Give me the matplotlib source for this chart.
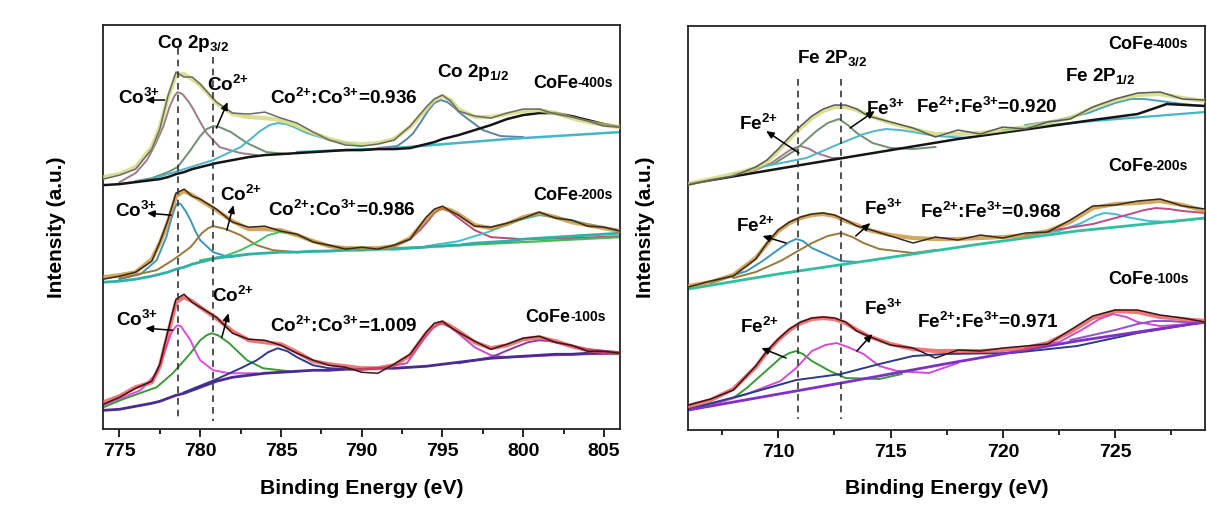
import matplotlib
matplotlib.use('Agg')
import matplotlib.pyplot as plt
from matplotlib.ticker import AutoMinorLocator

plt.rcParams['font.family'] = ['Liberation Sans', 'DejaVu Sans']
plt.rcParams['font.weight'] = 'bold'
plt.rcParams['mathtext.fontset'] = 'custom'
plt.rcParams['mathtext.rm'] = 'Liberation Sans:bold'
plt.rcParams['mathtext.it'] = 'Liberation Sans:bold'
plt.rcParams['mathtext.bf'] = 'Liberation Sans:bold'
plt.rcParams['mathtext.default'] = 'rm'

# ---------------- Co 2p (left panel) ----------------
co_e = [774, 775, 776, 777, 777.5, 778, 778.5, 779, 779.5, 780, 781, 782, 783, 784, 785,
        786, 787, 788, 789, 790, 791, 792, 793, 794, 794.5, 795, 795.5, 796, 797, 798,
        799, 800, 801, 802, 803, 804, 805, 806]

co400_fit = [252, 255, 262, 282, 302, 331, 354, 355, 350, 344, 326, 315, 312, 311, 309,
             303, 296, 290, 286, 285, 286, 290, 302, 320, 329, 333, 329, 320, 312, 312,
             315, 318, 319, 316, 311, 307, 304, 302]
co400_raw = [250, 254, 260, 280, 300, 333, 357, 352, 352, 345, 327, 316, 315, 317, 311,
             306, 297, 289, 284, 283, 285, 289, 303, 322, 330, 334, 328, 318, 313, 311,
             316, 320, 320, 315, 312, 308, 303, 302]
co400_bg = [244, 245, 247, 249, 250, 252, 255, 257, 260, 262, 266, 269, 272, 274, 275,
            276, 277, 278, 279, 279, 280, 280, 281, 285, 287, 290, 292, 294, 299, 304,
            310, 314, 316, 316, 313, 309, 305, 302]
co400_co3_e = [775, 776, 776.7, 777.2, 777.7, 778.1, 778.4, 778.6, 778.9, 779.3, 779.6, 780,
               780.4, 781.2, 782.5, 783.5]
co400_co3 = [247, 256, 269, 284, 302, 322, 333, 337, 335, 327, 319, 307, 296, 282, 276, 274]
co400_co2_e = [776, 777, 778, 778.6, 779.4, 780, 780.4, 780.8, 781.2, 781.9, 782.9, 784.1, 785.5]
co400_co2 = [248, 251, 257, 262, 279, 293, 300, 303, 302, 297, 286, 277, 275]
co400_sat_e = [775, 777, 779, 780.8, 782.5, 783.2, 783.7, 784.3, 784.8, 785.3, 785.8, 786.6,
               788, 789.1, 790]
co400_sat = [245, 250, 260, 269, 282, 291, 298, 304, 306, 305, 302, 296, 289, 286, 283]
co400_p12_e = [791, 792.2, 792.8, 793.2, 793.7, 794.1, 794.5, 794.9, 795.3, 795.7, 796.1,
               796.5, 797.5, 798.6, 800]
co400_p12 = [281, 283, 290, 296, 308, 318, 326, 329, 327, 322, 316, 311, 299, 293, 292]
co400_base_e = [786, 792, 799, 806]
co400_base = [277, 281, 290, 297]

co200_fit = [152, 154, 157, 170, 186, 207, 233, 238, 234, 229, 219, 208, 200, 200, 199,
             194, 188, 183, 181, 181, 181, 183, 191, 210, 218, 221, 219, 215, 204, 201,
             205, 212, 216, 212, 207, 204, 201, 198]
co200_raw = [150, 153, 157, 168, 187, 209, 236, 240, 233, 230, 220, 207, 202, 203, 198,
             195, 187, 184, 180, 182, 180, 184, 190, 212, 220, 223, 218, 214, 203, 202,
             206, 211, 217, 211, 209, 203, 202, 198]
co200_bg = [147, 148, 150, 153, 155, 157, 160, 162, 165, 167, 171, 173, 175, 176, 177,
            177, 178, 178, 179, 179, 180, 180, 181, 182, 183, 183, 184, 184, 186, 187,
            188, 190, 191, 192, 193, 194, 195, 196]
co200_co3_e = [775, 776.3, 777.3, 777.9, 778.2, 778.45, 778.6, 778.8, 779.1, 779.4, 779.7,
               780, 780.8, 781.8, 783]
co200_co3 = [150, 155, 169, 192, 210, 222, 226, 225, 218, 209, 198, 189, 177, 172, 175]
co200_co2_e = [775, 777.3, 778.3, 779.4, 780.1, 780.5, 780.8, 781.1, 781.6, 782.5, 783.5,
               784.5, 786]
co200_co2 = [151, 159, 169, 182, 196, 201, 203, 202, 200, 194, 184, 179, 177]
co200_sat_e = [780, 781.5, 782.5, 783.5, 784.2, 784.9, 785.5, 786, 787, 788, 789, 790]
co200_sat = [169, 173, 179, 187, 194, 197, 196, 194, 188, 183, 181, 180]
co200_p12_e = [791, 792, 793, 793.6, 794, 794.5, 794.9, 795.4, 796, 797, 798, 800, 803, 806]
co200_p12 = [181, 183, 190, 199, 206, 216, 221, 218, 211, 199, 192, 190, 191, 193]
co200_s801_e = [794, 796, 798, 799, 800, 801, 802, 803, 804, 806]
co200_s801 = [183, 188, 198, 205, 210, 214, 212, 209, 205, 199]
co200_base_e = [786, 795, 806]
co200_base = [177, 183, 192]

co100_fit = [27, 33, 42, 47, 63, 95, 127, 132, 128, 122, 111, 98, 89, 87, 85,
             77, 68, 65, 63, 61, 61, 64, 74, 96, 104, 107, 103, 98, 87, 81,
             84, 90, 92, 88, 83, 79, 77, 76]
co100_raw = [25, 32, 41, 48, 65, 98, 130, 135, 127, 122, 112, 96, 90, 89, 84,
             76, 69, 64, 62, 57, 56, 65, 75, 97, 106, 108, 102, 97, 88, 80,
             85, 91, 93, 87, 84, 78, 78, 76]
co100_bg = [19, 20, 23, 26, 28, 31, 34, 36, 39, 42, 48, 52, 54, 56, 57,
            58, 59, 59, 60, 60, 61, 61, 62, 63, 64, 65, 66, 67, 69, 71,
            72, 73, 74, 75, 75, 76, 76, 76]
co100_co3_e = [774, 776.3, 777.3, 777.9, 778.2, 778.45, 778.6, 778.8, 779.1, 779.4, 779.7,
               780, 780.8, 781.8, 783.5]
co100_co3 = [24, 39, 56, 82, 96, 102, 104, 103, 96, 89, 78, 69, 59, 56, 56]
co100_co2_e = [774, 775.2, 777.3, 778.3, 779.4, 780, 780.4, 780.7, 781.1, 781.8, 782.9,
               783.9, 785.5]
co100_co2 = [22, 30, 42, 56, 76, 89, 94, 96, 94, 86, 69, 61, 58]
co100_sat_e = [779, 781, 782.5, 783.5, 784.2, 784.8, 785.4, 786, 787, 788, 790]
co100_sat = [37, 50, 61, 69, 77, 81, 78, 72, 64, 61, 60]
co100_p12_e = [791, 792.8, 793.8, 794.4, 794.9, 795.4, 795.9, 797, 798, 799, 802, 806]
co100_p12 = [61, 66, 89, 101, 106, 103, 97, 82, 74, 72, 74, 76]
co100_s801_e = [796, 798, 799.5, 800.3, 801, 801.7, 802.5, 804, 806]
co100_s801 = [66, 72, 82, 87, 89, 88, 85, 80, 77]

# ---------------- Fe 2p (right panel) ----------------
fe_e = [706, 707, 708, 709, 709.5, 710, 710.5, 711, 711.5, 712, 712.5, 713, 713.5, 714,
        715, 716, 717, 718, 719, 720, 721, 722, 723, 724, 725, 726, 727, 728, 729]

fe400_fit = [246, 251, 256, 262, 268, 279, 291, 302, 312, 319, 323, 323, 320, 315,
             307, 301, 296, 296, 297, 300, 303, 307, 312, 322, 330, 335, 336, 332, 329]
fe400_raw = [245, 250, 254, 263, 270, 281, 293, 304, 314, 321, 325, 325, 321, 314,
             308, 302, 293, 300, 296, 303, 301, 308, 311, 323, 331, 337, 338, 331, 330]
fe400_bg_e = [706, 711, 718, 724, 726, 727.3, 729]
fe400_bg = [246, 265, 291, 310, 316, 326, 324]
fe400_fe2_e = [708, 709, 709.7, 710.2, 710.6, 711, 711.4, 711.7, 712.4, 713]
fe400_fe2 = [256, 260, 267, 275, 281, 284, 281, 277, 272, 272]
fe400_fe3_e = [709, 709.8, 710.7, 711.2, 711.7, 712.2, 712.7, 713.1, 713.5, 714.2, 715, 716, 717]
fe400_fe3 = [262, 266, 279, 289, 299, 307, 311, 305, 297, 287, 282, 281, 283]
fe400_sat_e = [709, 711.25, 712.7, 713.8, 714.3, 714.8, 715.4, 716, 717, 718.5]
fe400_sat = [262, 272, 286, 296, 299, 301, 300, 298, 294, 292]
fe400_p12_e = [721, 722.5, 723.8, 724.5, 725, 725.7, 726.3, 727, 728, 729]
fe400_p12 = [305, 310, 317, 323, 327, 331, 331, 329, 326, 324]
fe400_base_e = [720, 724, 729]
fe400_base = [300, 309, 318]

fe200_fit = [144, 148, 155, 172, 186, 199, 207, 212, 215, 216, 214, 209, 205, 200,
             195, 192, 191, 191, 192, 193, 195, 199, 208, 222, 226, 227, 229, 225, 219]
fe200_raw = [143, 149, 154, 171, 187, 200, 208, 213, 216, 217, 215, 210, 204, 201,
             194, 187, 193, 190, 195, 192, 197, 198, 210, 224, 225, 229, 231, 224, 221]
fe200_bg_e = [706, 710, 714.5, 719, 723.3, 729]
fe200_bg = [141, 156, 171, 186, 199, 212]
fe200_fe2_e = [707, 708.6, 709.3, 710.1, 710.5, 710.8, 711.1, 711.5, 712.3, 712.8, 713.5]
fe200_fe2 = [147, 159, 169, 182, 188, 191, 189, 182, 174, 169, 168]
fe200_fe3_e = [708, 709, 710.1, 711.5, 712.2, 712.8, 713.3, 713.8, 714.5, 716, 717]
fe200_fe3 = [152, 158, 169, 187, 194, 197, 193, 187, 181, 177, 180]
fe200_p12_e = [721, 722.5, 723.5, 724.1, 724.5, 725, 725.5, 726.5, 727.5, 729]
fe200_p12 = [195, 199, 207, 214, 217, 216, 213, 209, 208, 212]
fe200_sat_e = [722, 724, 725.5, 726.3, 726.8, 727.4, 728, 729]
fe200_sat = [199, 206, 215, 220, 222, 221, 219, 217]

fe100_fit = [24, 30, 41, 63, 78, 90, 100, 107, 111, 112, 111, 107, 100, 94,
             86, 81, 79, 79, 79, 80, 82, 87, 98, 112, 119, 118, 113, 111, 109]
fe100_raw = [25, 31, 40, 64, 79, 91, 101, 108, 112, 113, 112, 108, 99, 94,
             85, 82, 72, 80, 79, 82, 84, 86, 100, 114, 120, 120, 115, 112, 108]
fe100_bg_e = [706, 712.8, 717.4, 723.3, 729]
fe100_bg = [20, 47, 66, 89, 108]
fe100_navy_e = [706, 708.6, 710.8, 712.8, 714.5, 716, 717.4, 720.4, 723.3, 726, 729]
fe100_navy = [21, 36, 50, 56, 66, 74, 76, 77, 84, 97, 108]
fe100_fe2_e = [706.5, 708, 708.6, 709.3, 710.1, 710.5, 710.8, 711.1, 711.5, 712.3, 713,
               714.5, 715.5]
fe100_fe2 = [23, 32, 42, 56, 72, 77, 79, 76, 69, 59, 52, 51, 56]
fe100_fe3_e = [707, 708.6, 710.1, 710.8, 711.5, 712.1, 712.6, 713.1, 713.8, 714.5, 715.3,
               716.7, 718]
fe100_fe3 = [25, 36, 49, 62, 79, 85, 87, 83, 76, 64, 59, 57, 67]
fe100_p12_e = [721, 722.5, 723.5, 724.3, 724.9, 725.5, 726, 727, 729]
fe100_p12 = [82, 88, 100, 111, 116, 113, 108, 104, 107]
fe100_sat_e = [723, 725, 726, 726.7, 727.4, 728, 729]
fe100_sat = [90, 100, 106, 109, 109, 108, 107]

co_ticks = [775, 780, 785, 790, 795, 800, 805]
fe_ticks = [710, 715, 720, 725]

FS = 13.6


def comp(ax, x, y, color, lw=1.4):
    ax.plot(x, y, color=color, lw=lw, zorder=2, solid_joinstyle='round')


def spectrum(ax, e, raw, fit, fit_color, raw_color):
    ax.plot(e, fit, color=fit_color, lw=3.0, alpha=0.75, zorder=3,
            solid_capstyle='round', solid_joinstyle='round')
    ax.plot(e, raw, color=raw_color, lw=1.1, zorder=4)


def arrow(ax, tail, head):
    ax.annotate('', xy=head, xytext=tail,
                arrowprops=dict(arrowstyle='-|>,head_length=0.45,head_width=0.2',
                                color='k', lw=1.1, shrinkA=0, shrinkB=0), zorder=6)


def label(ax, x, y, s):
    ax.text(x, y, s, fontsize=FS, ha='left', va='center', zorder=6)


def sample_label(ax, x, y, tag):
    t = ax.text(x, y, 'CoFe', fontsize=13, ha='left', va='center', zorder=6)
    ax.annotate(tag, xy=(1, 0.08), xycoords=t, fontsize=10, ha='left', va='bottom', zorder=6)


def style_axes(ax, xlim, ticks):
    ax.set_xlim(*xlim)
    ax.set_ylim(0, 404)
    ax.set_xticks(ticks)
    ax.xaxis.set_minor_locator(AutoMinorLocator(2))
    ax.set_yticks([])
    ax.tick_params(axis='x', which='major', direction='out', length=6, width=1.2,
                   labelsize=14, pad=4, top=False)
    ax.tick_params(axis='x', which='minor', direction='out', length=3.5, width=1.2, top=False)
    for lab in ax.get_xticklabels():
        lab.set_fontweight('bold')
    for s in ax.spines.values():
        s.set_linewidth(1.3)
        s.set_color('#222222')


CO3 = r'Co$^{\text{3+}}$'
CO2 = r'Co$^{\text{2+}}$'
FE3 = r'Fe$^{\text{3+}}$'
FE2 = r'Fe$^{\text{2+}}$'

fig = plt.figure(figsize=(12.07, 5.08), dpi=100)
ax1 = fig.add_axes([0.0856, 0.1549, 0.4281, 0.7959])
ax2 = fig.add_axes([0.5703, 0.1535, 0.4281, 0.7953])

# ---- left panel ----
comp(ax1, co400_co3_e, co400_co3, '#9d7c84')
comp(ax1, co400_co2_e, co400_co2, '#6f8f72')
comp(ax1, co400_sat_e, co400_sat, '#4fb5cc')
comp(ax1, co400_p12_e, co400_p12, '#5b84a8')
comp(ax1, co400_base_e, co400_base, '#45b5c8', lw=1.8)
comp(ax1, co_e, co400_bg, '#151515', lw=1.8)
spectrum(ax1, co_e, co400_raw, co400_fit, '#cdd66c', '#6a6a6a')

comp(ax1, co200_co3_e, co200_co3, '#3d96b8')
comp(ax1, co200_co2_e, co200_co2, '#9a7a3c')
comp(ax1, co200_sat_e, co200_sat, '#44c065')
comp(ax1, co200_p12_e, co200_p12, '#c04a70')
comp(ax1, co200_s801_e, co200_s801, '#3fc0c8')
comp(ax1, co200_base_e, co200_base, '#4ab85a', lw=1.6)
comp(ax1, co_e, co200_bg, '#30b0a8', lw=2.0)
spectrum(ax1, co_e, co200_raw, co200_fit, '#c48a2c', '#3a2a1c')

comp(ax1, co100_co3_e, co100_co3, '#e04ce0')
comp(ax1, co100_co2_e, co100_co2, '#3a9a3a')
comp(ax1, co100_sat_e, co100_sat, '#2e3a92')
comp(ax1, co100_p12_e, co100_p12, '#c84cc8')
comp(ax1, co100_s801_e, co100_s801, '#8a3ca8')
comp(ax1, co_e, co100_bg, '#4a2a94', lw=2.0)
spectrum(ax1, co_e, co100_raw, co100_fit, '#ea4a4a', '#3a1616')

for x0, y0 in [(778.6, 381), (780.8, 372)]:
    ax1.plot([x0, x0], [y0, 8], ls=(0, (4, 3)), color='#333333', lw=1.2, zorder=5)

label(ax1, 777.3, 386, r'Co 2p$_{\text{3/2}}$')
label(ax1, 794.67, 357, r'Co 2p$_{\text{1/2}}$')
# 400s
label(ax1, 774.9, 331, CO3)
arrow(ax1, (777.8, 329), (776.6, 329))
label(ax1, 780.45, 344, CO2)
arrow(ax1, (781.0, 301), (781.7, 327))
label(ax1, 784.3, 331, CO2 + ':' + CO3 + '=0.936')
sample_label(ax1, 800.6, 346, '-400s')
# 200s
label(ax1, 774.75, 218, CO3)
arrow(ax1, (778.2, 214), (776.7, 216))
label(ax1, 781.2, 234, CO2)
arrow(ax1, (781.65, 199), (782.06, 224))
label(ax1, 784.2, 219, CO2 + ':' + CO3 + '=0.986')
sample_label(ax1, 800.6, 234, '-200s')
# 100s
label(ax1, 774.8, 109, CO3)
arrow(ax1, (778.3, 99), (776.6, 101))
label(ax1, 780.7, 133, CO2)
arrow(ax1, (781.34, 92), (781.75, 116))
label(ax1, 784.3, 103, CO2 + ':' + CO3 + '=1.009')
sample_label(ax1, 800.15, 112, '-100s')

style_axes(ax1, (774, 806), co_ticks)

# ---- right panel ----
comp(ax2, fe400_fe2_e, fe400_fe2, '#a27a8a')
comp(ax2, fe400_fe3_e, fe400_fe3, '#6f8f72')
comp(ax2, fe400_sat_e, fe400_sat, '#4fb5cc')
comp(ax2, fe400_p12_e, fe400_p12, '#4aa0c4')
comp(ax2, fe400_base_e, fe400_base, '#45b5c8', lw=1.6)
comp(ax2, fe400_bg_e, fe400_bg, '#151515', lw=1.8)
spectrum(ax2, fe_e, fe400_raw, fe400_fit, '#cdd66c', '#5a5a5a')

comp(ax2, fe200_fe2_e, fe200_fe2, '#3d96b8')
comp(ax2, fe200_fe3_e, fe200_fe3, '#9a7a3c')
comp(ax2, fe200_p12_e, fe200_p12, '#3fc0d8')
comp(ax2, fe200_sat_e, fe200_sat, '#c04a88')
comp(ax2, fe200_bg_e, fe200_bg, '#30c0a0', lw=2.0)
spectrum(ax2, fe_e, fe200_raw, fe200_fit, '#c48a2c', '#3a2a1c')

comp(ax2, fe100_fe2_e, fe100_fe2, '#3a9a3a')
comp(ax2, fe100_fe3_e, fe100_fe3, '#d24cd8')
comp(ax2, fe100_navy_e, fe100_navy, '#2a3a8c')
comp(ax2, fe100_p12_e, fe100_p12, '#d04cd0')
comp(ax2, fe100_sat_e, fe100_sat, '#9050d0')
comp(ax2, fe100_bg_e, fe100_bg, '#8030c8', lw=2.0)
spectrum(ax2, fe_e, fe100_raw, fe100_fit, '#ea4a4a', '#3a1616')

for x0 in [710.9, 712.8]:
    ax2.plot([x0, x0], [351, 11], ls=(0, (4, 3)), color='#333333', lw=1.2, zorder=5)

label(ax2, 710.83, 372, r'Fe 2P$_{\text{3/2}}$')
label(ax2, 722.76, 354, r'Fe 2P$_{\text{1/2}}$')
# 400s
label(ax2, 708.26, 306, FE2)
arrow(ax2, (710.92, 277), (709.46, 299))
label(ax2, 713.9, 321, FE3)
arrow(ax2, (713.2, 302), (714.3, 319))
label(ax2, 716.12, 323, FE2 + ':' + FE3 + '=0.920')
sample_label(ax2, 724.67, 386, '-400s')
# 200s
label(ax2, 708.14, 204, FE2)
arrow(ax2, (710.35, 187), (709.3, 194))
label(ax2, 713.82, 221, FE3)
arrow(ax2, (713.45, 194), (714.1, 207))
label(ax2, 716.33, 218, FE2 + ':' + FE3 + '=0.968')
sample_label(ax2, 724.67, 264, '-200s')
# 100s
label(ax2, 708.29, 103, FE2)
arrow(ax2, (710.35, 72), (709.25, 82))
label(ax2, 713.82, 121, FE3)
arrow(ax2, (713.5, 79), (714.19, 96))
label(ax2, 716.18, 108, FE2 + ':' + FE3 + '=0.971')
sample_label(ax2, 724.7, 151, '-100s')

style_axes(ax2, (706, 729), fe_ticks)

for cx in [361.5 / 1207, 946.6 / 1207]:
    fig.text(cx, 20 / 508, 'Binding Energy (eV)', fontsize=15.3, fontweight='bold',
             ha='center', va='center')
for cx in [56.5 / 1207, 645.5 / 1207]:
    fig.text(cx, 281 / 508, 'Intensity (a.u.)', fontsize=15, fontweight='bold',
             ha='center', va='center', rotation=90)

fig.savefig('out.png', dpi=100, facecolor='white')
